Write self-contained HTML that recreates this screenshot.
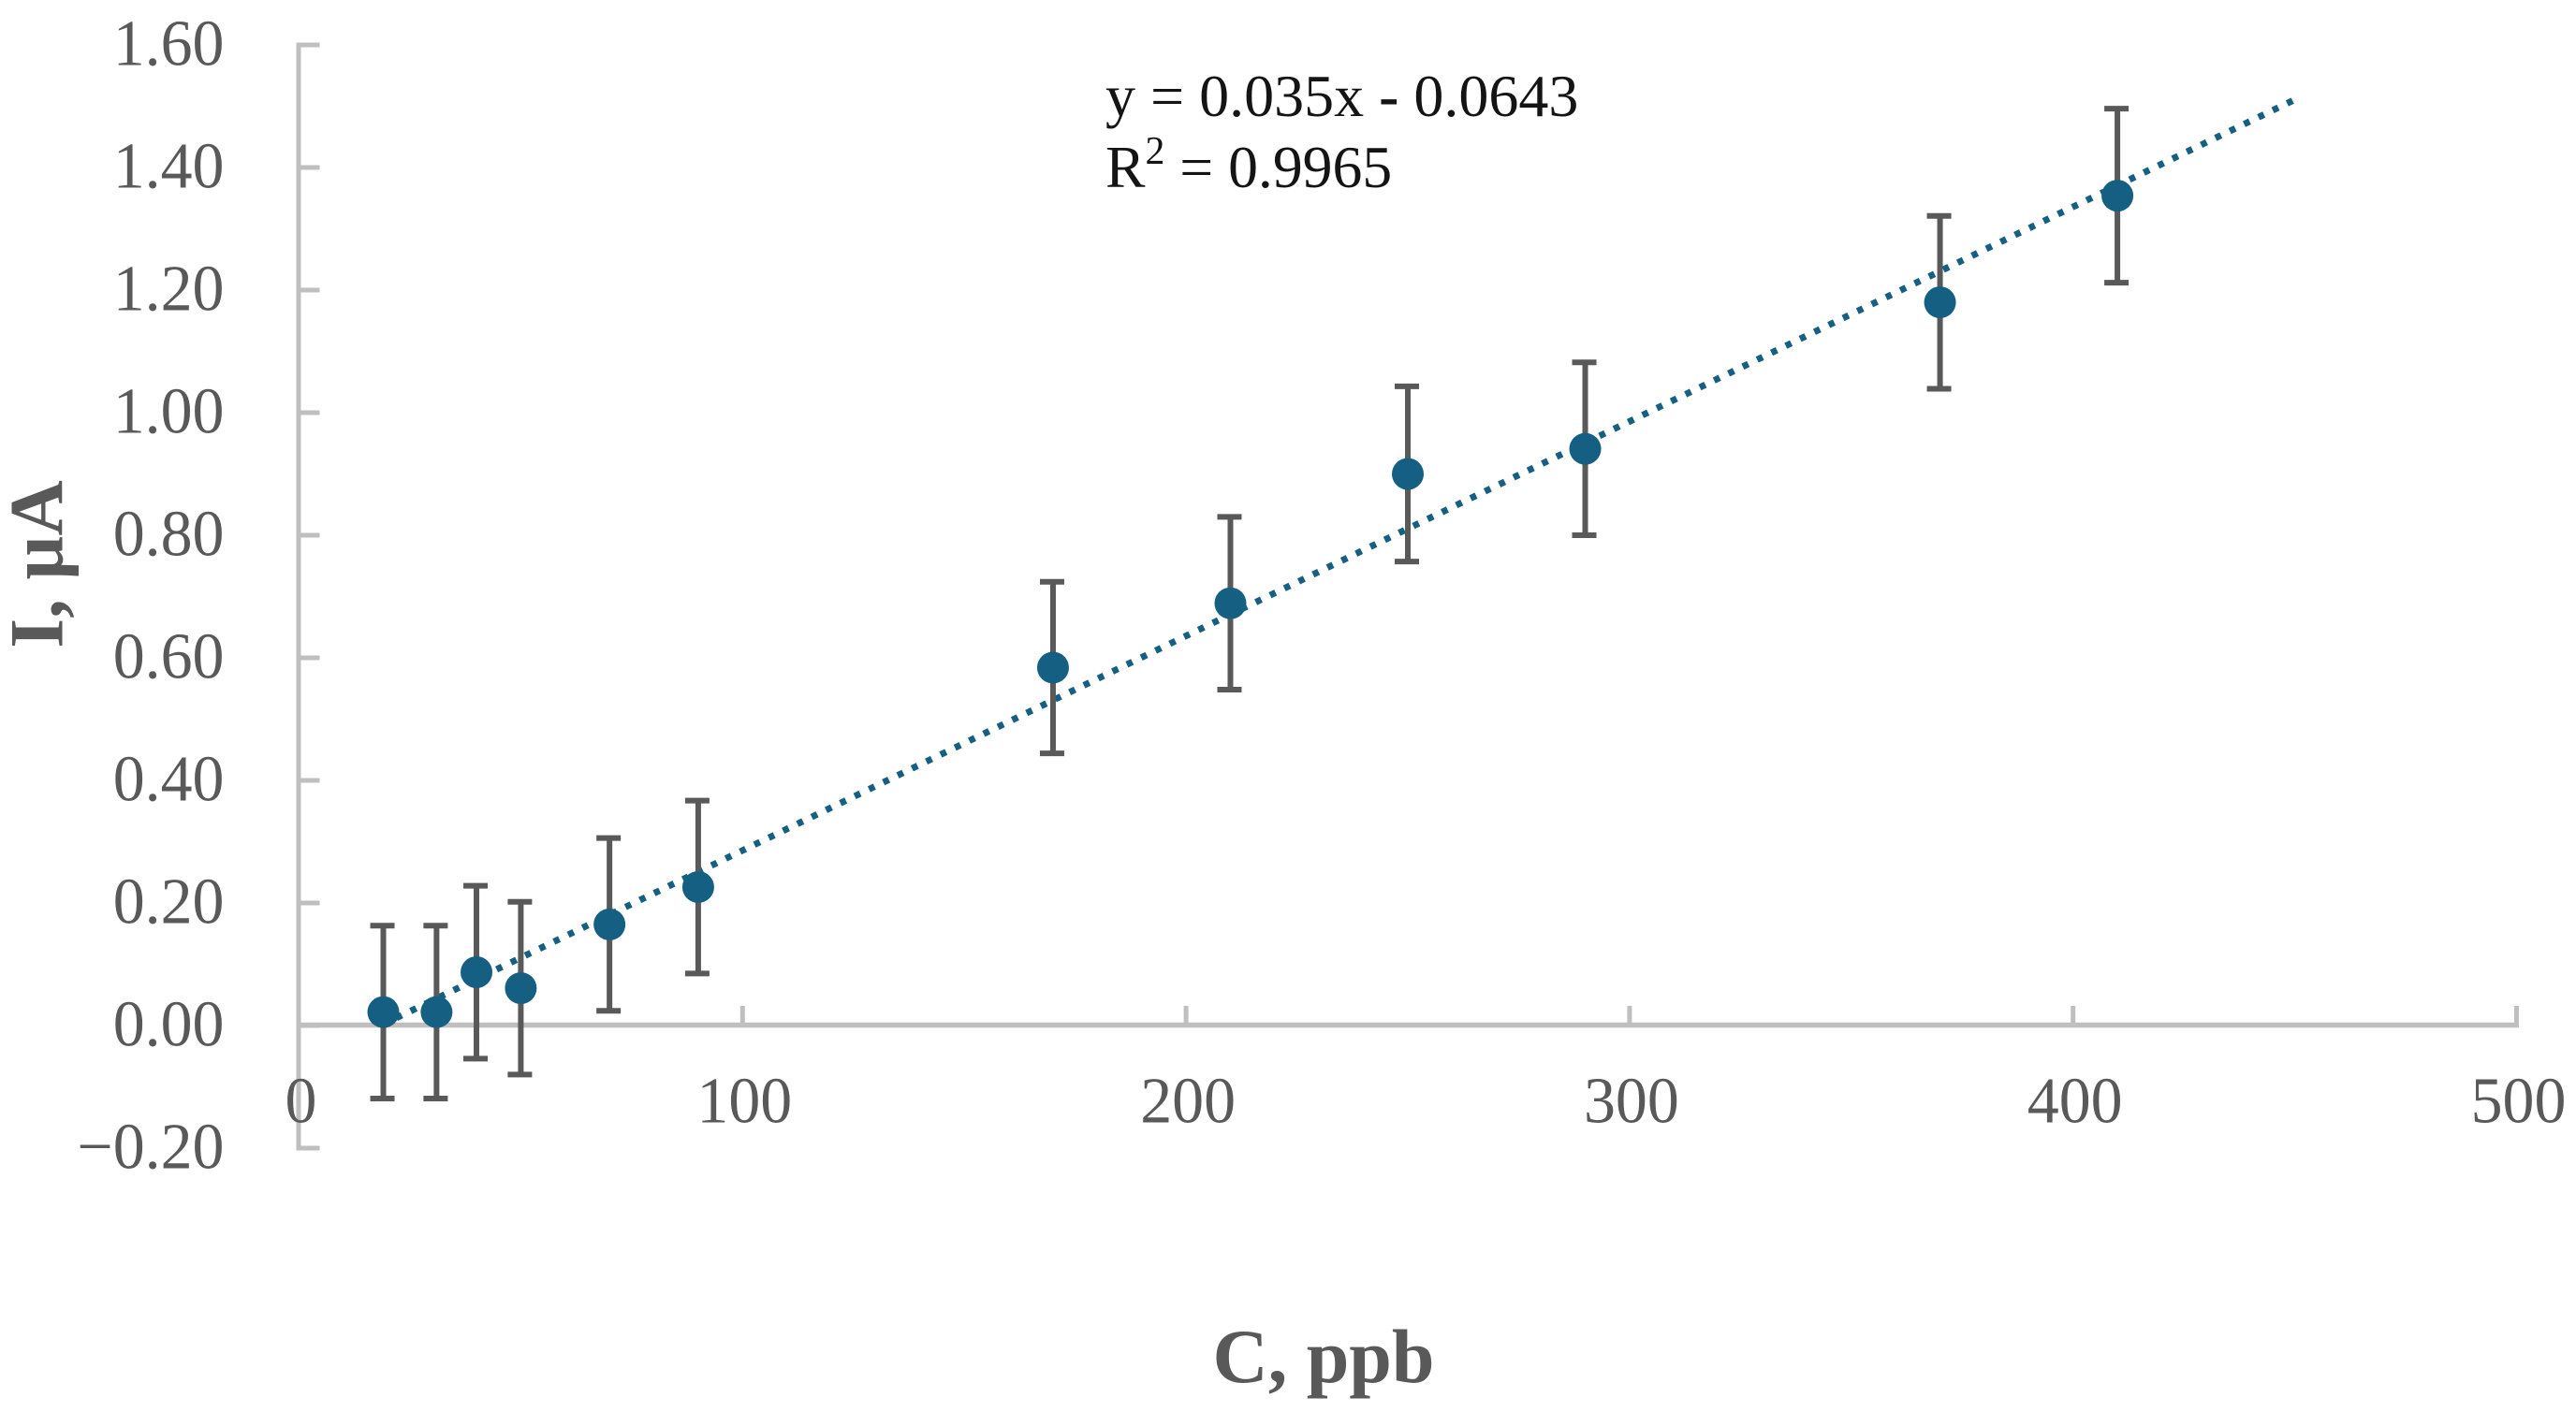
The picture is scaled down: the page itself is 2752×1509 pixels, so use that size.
<!DOCTYPE html>
<html lang="en">
<head>
<meta charset="utf-8">
<title>Calibration chart: I vs C</title>
<style>
  html, body { margin: 0; padding: 0; background: #ffffff; }
  body { width: 2752px; height: 1509px; overflow: hidden; }
  svg { display: block; }
  text { font-family: "Liberation Serif", "Times New Roman", serif; }
</style>
</head>
<body>
<svg id="chart" xmlns="http://www.w3.org/2000/svg" width="2752" height="1509" viewBox="0 0 2752 1509">
  <rect x="0" y="0" width="2752" height="1509" fill="#ffffff"/>
  <g id="axes"></g>
  <g id="trend"></g>
  <g id="errors"></g>
  <g id="points"></g>
  <g fill="#141414" font-size="64">
    <text transform="translate(1181,124) scale(1,1)" xml:space="preserve">y = 0.035x <tspan font-weight="bold">-</tspan> 0.0643</text>
    <text transform="translate(1181,200) scale(0.995,1)">R<tspan font-size="42" dy="-25">2</tspan><tspan dy="25"> = 0.9965</tspan></text>
  </g>
  <text x="1414" y="1477" text-anchor="middle" font-size="82" font-weight="bold" fill="#595959">C, ppb</text>
  <text transform="translate(66.5,603) rotate(-90)" text-anchor="middle" font-size="82" font-weight="bold" fill="#595959">I, µA</text>
</svg>
<script>
const concentration = [19, 31, 40, 50, 70, 90, 170, 210, 250, 290, 370, 410];
const current = [0.022, 0.022, 0.087, 0.061, 0.165, 0.226, 0.584, 0.689, 0.900, 0.941, 1.180, 1.354];
const currentError = [0.141, 0.141, 0.141, 0.141, 0.141, 0.141, 0.14, 0.141, 0.143, 0.141, 0.141, 0.142];
const trendX = [19, 449.5];
const trendY = [0.0022, 1.509];
const xTickValues = [0, 100, 200, 300, 400, 500];
const xTickLabels = ["0", "100", "200", "300", "400", "500"];
const yTickValues = [1.6, 1.4, 1.2, 1.0, 0.8, 0.6, 0.4, 0.2, 0, -0.2];
const yTickLabels = ["1.60", "1.40", "1.20", "1.00", "0.80", "0.60", "0.40", "0.20", "0.00", "\u22120.20"];

const NS = "http://www.w3.org/2000/svg";
const X0 = 319.5, XPER = 4.738;
const Y0 = 1096, YPER = 655;
const xScale = v => X0 + v * XPER;
const yScale = v => Y0 - v * YPER;
const AXIS = "#bfbfbf", INK = "#595959", SERIES = "#156082";

function make(tag, props, parent) {
  const el = document.createElementNS(NS, tag);
  for (const k in props) el.setAttribute(k, props[k]);
  parent.appendChild(el);
  return el;
}

const axes = document.getElementById("axes");
const yLine = make("line", { x1: X0 - 0.5, x2: X0 - 0.5, y1: yScale(1.6) - 2.5, y2: yScale(-0.2) + 2.5, stroke: AXIS, "stroke-width": 5 }, axes);


const xLine = make("line", { x1: X0 - 3, x2: xScale(500) + 2.5, y1: Y0 - 0.5, y2: Y0 - 0.5, stroke: AXIS, "stroke-width": 5.5 }, axes);



yTickValues.forEach((v, i) => {
  const t = make("line", { x1: X0 - 0.5, x2: 341.5, y1: yScale(v), y2: yScale(v), stroke: AXIS, "stroke-width": 5 }, axes);
  
  
  const l = make("text", { transform: "translate(239.5," + (yScale(v) + 21.5) + ") scale(0.97,1)", "text-anchor": "end", "font-size": 70, fill: INK }, axes);
  
  
  l.textContent = yTickLabels[i];
});

xTickValues.forEach((v, i) => {
  if (v !== 0) {
    const t = make("line", { x1: xScale(v), x2: xScale(v), y1: Y0, y2: 1075, stroke: AXIS, "stroke-width": 5 }, axes);
    
    
  }
  const l = make("text", { transform: "translate(" + (xScale(v) + 2) + ",1199.5) scale(0.97,1)", "text-anchor": "middle", "font-size": 70, fill: INK }, axes);
  
  
  l.textContent = xTickLabels[i];
});

const trendGroup = document.getElementById("trend");
const trendLine = make("line", {
  x1: xScale(trendX[1]), y1: yScale(trendY[1]),
  x2: xScale(trendX[0]), y2: yScale(trendY[0]),
  stroke: SERIES, "stroke-width": 7, "stroke-dasharray": "6.5 10.5"
}, trendGroup);



const errorGroup = document.getElementById("errors");
const pointGroup = document.getElementById("points");
concentration.forEach((c, i) => {
  const x = xScale(c);
  const top = yScale(current[i] + currentError[i]);
  const bottom = yScale(current[i] - currentError[i]);
  const stem = make("line", { x1: x, x2: x, y1: top, y2: bottom, stroke: INK, "stroke-width": 6 }, errorGroup);
  
  
  const capTop = make("line", { x1: x - 14, x2: x + 12, y1: top, y2: top, stroke: INK, "stroke-width": 6 }, errorGroup);
  
  
  const capBottom = make("line", { x1: x - 14, x2: x + 12, y1: bottom, y2: bottom, stroke: INK, "stroke-width": 6 }, errorGroup);
  
  
  const dot = make("circle", { cx: x, cy: yScale(current[i]), r: 17, fill: SERIES }, pointGroup);
  
  
});
</script>
</body>
</html>
